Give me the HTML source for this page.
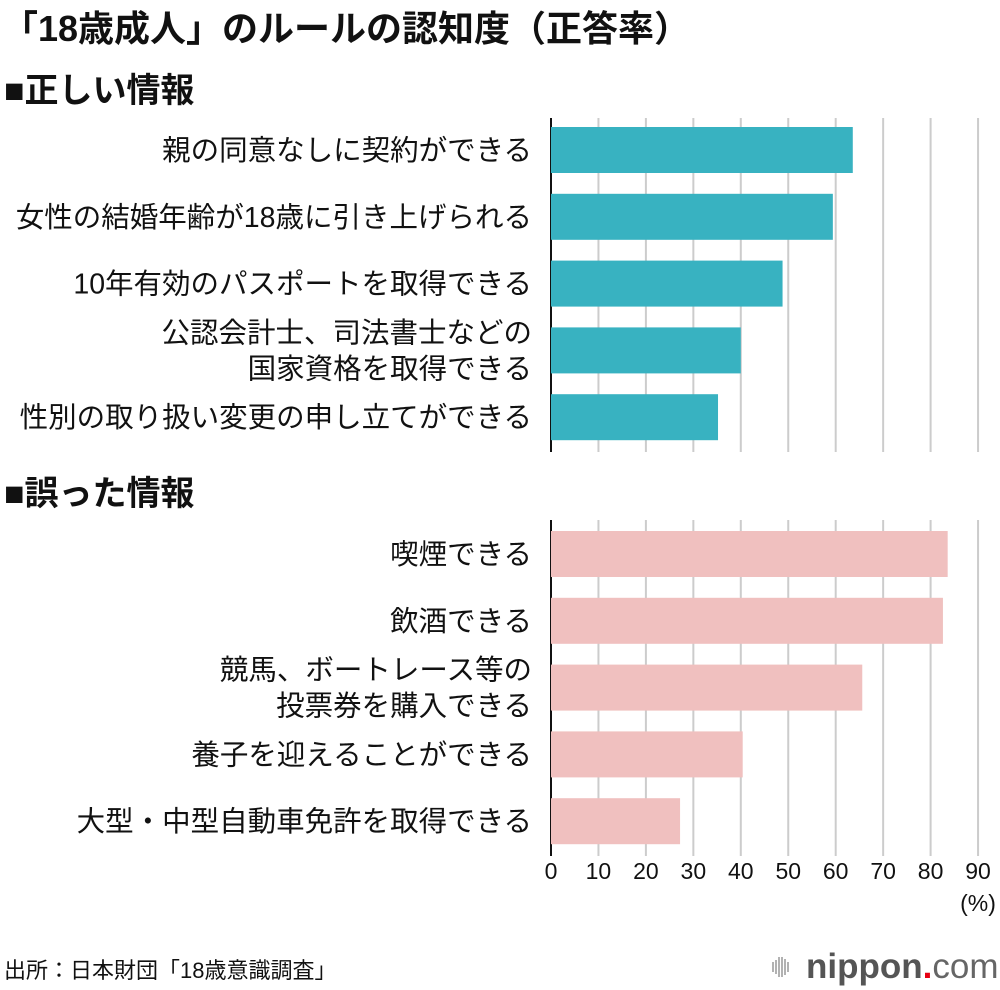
<!DOCTYPE html>
<html><head><meta charset="utf-8">
<style>
body{margin:0;background:#fff;}
svg{display:block;font-family:"Liberation Sans","Noto Sans CJK JP",sans-serif;}
</style></head>
<body>
<svg id="chart" width="1000" height="990" viewBox="0 0 1000 990" xmlns="http://www.w3.org/2000/svg">
<text x="2" y="41" font-size="36" font-weight="bold" fill="#111" textLength="688">「18歳成人」のルールの認知度（正答率）</text>
<text x="4" y="102" font-size="34" font-weight="bold" fill="#111">■正しい情報</text>
<text x="4" y="505" font-size="34" font-weight="bold" fill="#111">■誤った情報</text>
<g id="grid"></g>
<g id="bars"></g>
<g id="labels"></g>
<g id="ticks"></g>
<text x="978" y="911" font-size="23" text-anchor="middle" fill="#111">(%)</text>
<text x="4" y="978" font-size="22" fill="#111">出所：日本財団「18歳意識調査」</text>
<g>
<g stroke="#999" stroke-width="1.5">
<line x1="773" y1="962" x2="773" y2="972"/><line x1="776" y1="960" x2="776" y2="974"/><line x1="779" y1="957" x2="779" y2="977"/><line x1="782" y1="957" x2="782" y2="977"/><line x1="785" y1="959" x2="785" y2="975"/><line x1="788" y1="962" x2="788" y2="972"/>
</g>
<text x="806" y="978" font-size="35" font-weight="bold" fill="#555">nippon<tspan fill="#e60012">.</tspan><tspan font-weight="normal" fill="#666">com</tspan></text>
</g>
</svg>
<script>
const correctCats=[["親の同意なしに契約ができる"],["女性の結婚年齢が18歳に引き上げられる"],["10年有効のパスポートを取得できる"],["公認会計士、司法書士などの","国家資格を取得できる"],["性別の取り扱い変更の申し立てができる"]];
const correctVals=[63.6,59.4,48.8,40.0,35.2];
const wrongCats=[["喫煙できる"],["飲酒できる"],["競馬、ボートレース等の","投票券を購入できる"],["養子を迎えることができる"],["大型・中型自動車免許を取得できる"]];
const wrongVals=[83.6,82.6,65.6,40.4,27.2];
const ticks=[0,10,20,30,40,50,60,70,80,90];

const NS="http://www.w3.org/2000/svg";
const x0=551,pxPer=4.745;
const xs=v=>x0+v*pxPer;
function mk(tag,attrs,parent){const e=document.createElementNS(NS,tag);for(const k in attrs)e.setAttribute(k,attrs[k]);parent.appendChild(e);return e;}
const G=document.getElementById('grid'),B=document.getElementById('bars'),L=document.getElementById('labels'),T=document.getElementById('ticks');
const sections=[{cats:correctCats,vals:correctVals,top:127,gy0:118,gy1:452,color:"#38b2c1",key:"correct"},
{cats:wrongCats,vals:wrongVals,top:531,gy0:520,gy1:856,color:"#f0c0bf",key:"wrong"}];
sections.forEach(s=>{
  ticks.forEach(t=>{if(t===0)return;
    const l=mk('line',{x1:xs(t),x2:xs(t),y1:s.gy0,y2:s.gy1,stroke:"#ccc","stroke-width":2},G);
    
    
  });
  s.vals.forEach((v,i)=>{
    const y=s.top+i*66.8;
    const r=mk('rect',{x:x0,y:y,width:xs(v)-x0,height:46,fill:s.color},B);
    
    
    const lines=s.cats[i];
    const tx=mk('text',{x:532,"font-size":28.5,"text-anchor":"end",fill:"#111"},L);
    
    
    lines.forEach((ln,j)=>{
      const cy=y+23+10+(j-(lines.length-1)/2)*36;
      const ts=mk('tspan',{x:532,y:cy},tx);ts.textContent=ln;
    });
  });
  const ax=mk('line',{x1:x0,x2:x0,y1:s.gy0,y2:s.gy1,stroke:"#111","stroke-width":2},G);
  
  
});
ticks.forEach(t=>{
  const tx=mk('text',{x:xs(t),y:879,"font-size":23,"text-anchor":"middle",fill:"#111"},T);
  tx.textContent=t;
  
  
});
</script>
</body></html>
